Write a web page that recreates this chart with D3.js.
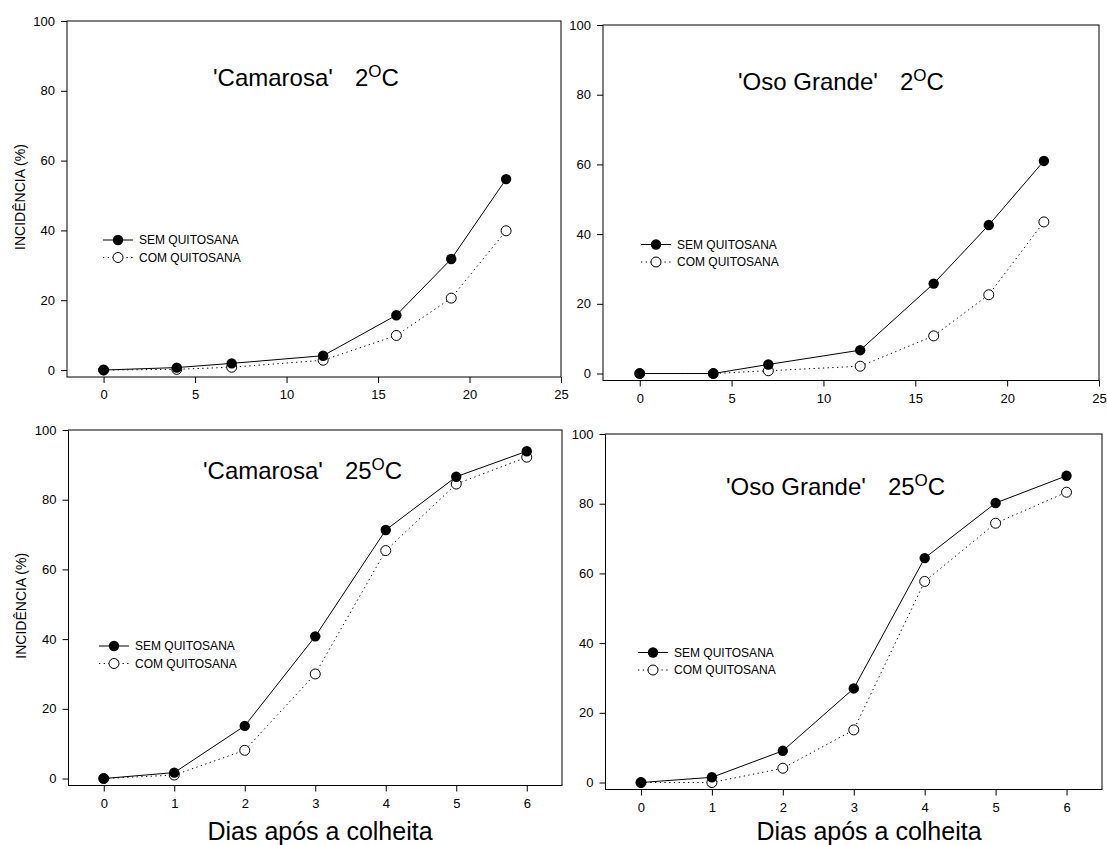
<!DOCTYPE html>
<html>
<head>
<meta charset="utf-8">
<script src="https://cdn.jsdelivr.net/npm/d3@7"></script>
<style>
  body { margin: 0; background: #fff; }
  text { font-family: "Liberation Sans", Arial, sans-serif; fill: #000; }
</style>
</head>
<body>
<div id="chart"></div>
<script>
// days after harvest
const days2 = [0, 4, 7, 12, 16, 19, 22];
const days25 = [0, 1, 2, 3, 4, 5, 6];

// incidence (%)
const camarosa2Sem = [0, 0.7, 1.9, 4.1, 15.7, 31.8, 54.7];
const camarosa2Com = [0, 0.2, 0.8, 2.8, 9.9, 20.6, 39.9];
const osoGrande2Sem = [0, 0, 2.6, 6.7, 25.8, 42.6, 61.0];
const osoGrande2Com = [0, 0, 0.8, 2.1, 10.8, 22.6, 43.5];
const camarosa25Sem = [0, 1.7, 15.1, 40.8, 71.3, 86.6, 93.9];
const camarosa25Com = [0, 1.0, 8.1, 30.0, 65.4, 84.5, 92.2];
const osoGrande25Sem = [0, 1.5, 9.1, 27.0, 64.4, 80.2, 88.0];
const osoGrande25Com = [0, 0, 4.1, 15.1, 57.7, 74.4, 83.3];

const xTicks2 = [0, 5, 10, 15, 20, 25];
const xTicks25 = [0, 1, 2, 3, 4, 5, 6];
const yTicks = [0, 20, 40, 60, 80, 100];
const seriesNames = ["SEM QUITOSANA", "COM QUITOSANA"];
const yLabel = "INCIDÊNCIA (%)";
const xLabel = "Dias após a colheita";

const width = 1107, height = 845;

const panels = [
  { cultivar: "'Camarosa'", temp: "2", days: days2, sem: camarosa2Sem, com: camarosa2Com,
    xDomain: [-2, 25], xTicks: xTicks2, box: [67, 21, 561, 377],
    title: [213, 86], legend: [103, 240], yTitle: true, xTitle: null },
  { cultivar: "'Oso Grande'", temp: "2", days: days2, sem: osoGrande2Sem, com: osoGrande2Com,
    xDomain: [-2, 25], xTicks: xTicks2, box: [603, 25, 1099, 380.5],
    title: [738, 90], legend: [641, 244.5], yTitle: false, xTitle: null },
  { cultivar: "'Camarosa'", temp: "25", days: days25, sem: camarosa25Sem, com: camarosa25Com,
    xDomain: [-0.5, 6.5], xTicks: xTicks25, box: [68.5, 430, 562, 785.5],
    title: [203, 479], legend: [99, 646], yTitle: true, xTitle: [320, 840] },
  { cultivar: "'Oso Grande'", temp: "25", days: days25, sem: osoGrande25Sem, com: osoGrande25Com,
    xDomain: [-0.5, 6.5], xTicks: xTicks25, box: [605.5, 434, 1102, 789.5],
    title: [726, 495], legend: [638, 652.5], yTitle: false, xTitle: [869, 840] }
];

const svg = d3.select("#chart").append("svg")
  .attr("width", width)
  .attr("height", height);

const dotted = "1.3,3.4";

panels.forEach(p => {
  const [x0, y0, x1, y1] = p.box;
  const x = d3.scaleLinear().domain(p.xDomain).range([x0, x1]);
  const y = d3.scaleLinear().domain([-2, 100]).range([y1, y0]);
  const g = svg.append("g");

  // frame
  g.append("rect")
    .attr("x", x0).attr("y", y0)
    .attr("width", x1 - x0).attr("height", y1 - y0)
    .attr("fill", "none").attr("stroke", "#000").attr("stroke-width", 1);

  const xAxis = g.append("g")
    .attr("transform", `translate(0,${y1})`)
    .call(d3.axisBottom(x).tickValues(p.xTicks).tickFormat(d3.format("d"))
      .tickSize(6).tickPadding(7));
  const yAxis = g.append("g")
    .attr("transform", `translate(${x0},0)`)
    .call(d3.axisLeft(y).tickValues(yTicks).tickFormat(d3.format("d"))
      .tickSize(6).tickPadding(6));
  [xAxis, yAxis].forEach(a => {
    a.select(".domain").remove();
    a.selectAll("text").style("font-size", "13px").attr("fill", "#000");
    a.selectAll("line").attr("stroke", "#000");
  });

  const pts = k => p.days.map((d, i) => ({ x: d, y: p[k][i] }));
  const line = d3.line().x(d => x(d.x)).y(d => y(d.y));

  g.append("path").datum(pts("com"))
    .attr("d", line).attr("fill", "none")
    .attr("stroke", "#000").attr("stroke-width", 1)
    .attr("stroke-dasharray", dotted);
  g.append("path").datum(pts("sem"))
    .attr("d", line).attr("fill", "none")
    .attr("stroke", "#000").attr("stroke-width", 1);

  g.selectAll(".com").data(pts("com")).enter().append("circle")
    .attr("cx", d => x(d.x)).attr("cy", d => y(d.y)).attr("r", 5)
    .attr("fill", "#fff").attr("stroke", "#000").attr("stroke-width", 1);
  g.selectAll(".sem").data(pts("sem")).enter().append("circle")
    .attr("cx", d => x(d.x)).attr("cy", d => y(d.y)).attr("r", 5.2)
    .attr("fill", "#000");

  // legend
  const [lx, ly] = p.legend;
  seriesNames.forEach((name, i) => {
    const row = g.append("g").attr("transform", `translate(${lx},${ly + i * 17.5})`);
    row.append("line")
      .attr("x1", 0).attr("x2", 30).attr("y1", 0).attr("y2", 0)
      .attr("stroke", "#000").attr("stroke-width", 1)
      .attr("stroke-dasharray", i === 0 ? null : dotted);
    row.append("circle")
      .attr("cx", 15).attr("cy", 0).attr("r", i === 0 ? 5.2 : 5)
      .attr("fill", i === 0 ? "#000" : "#fff")
      .attr("stroke", "#000").attr("stroke-width", i === 0 ? 0 : 1);
    row.append("text")
      .attr("x", 36).attr("y", 0).attr("dy", "0.35em")
      .style("font-size", "12px")
      .text(name);
  });

  // panel title with superscript O
  const t = g.append("text")
    .attr("x", p.title[0]).attr("y", p.title[1])
    .style("font-size", "24px");
  t.append("tspan").text(p.cultivar);
  t.append("tspan").attr("dx", 22).text(p.temp);
  t.append("tspan").attr("dy", -9).style("font-size", "17px").text("O");
  t.append("tspan").attr("dy", 9).text("C");

  if (p.yTitle) {
    g.append("text")
      .attr("transform", `translate(${x0 - 47},${(y0 + y1) / 2 - 2}) rotate(-90)`)
      .attr("text-anchor", "middle").attr("dy", "0.35em")
      .style("font-size", "14px")
      .text(yLabel);
  }
  if (p.xTitle) {
    g.append("text")
      .attr("x", p.xTitle[0]).attr("y", p.xTitle[1])
      .attr("text-anchor", "middle")
      .style("font-size", "25px")
      .text(xLabel);
  }
});
</script>
</body>
</html>
